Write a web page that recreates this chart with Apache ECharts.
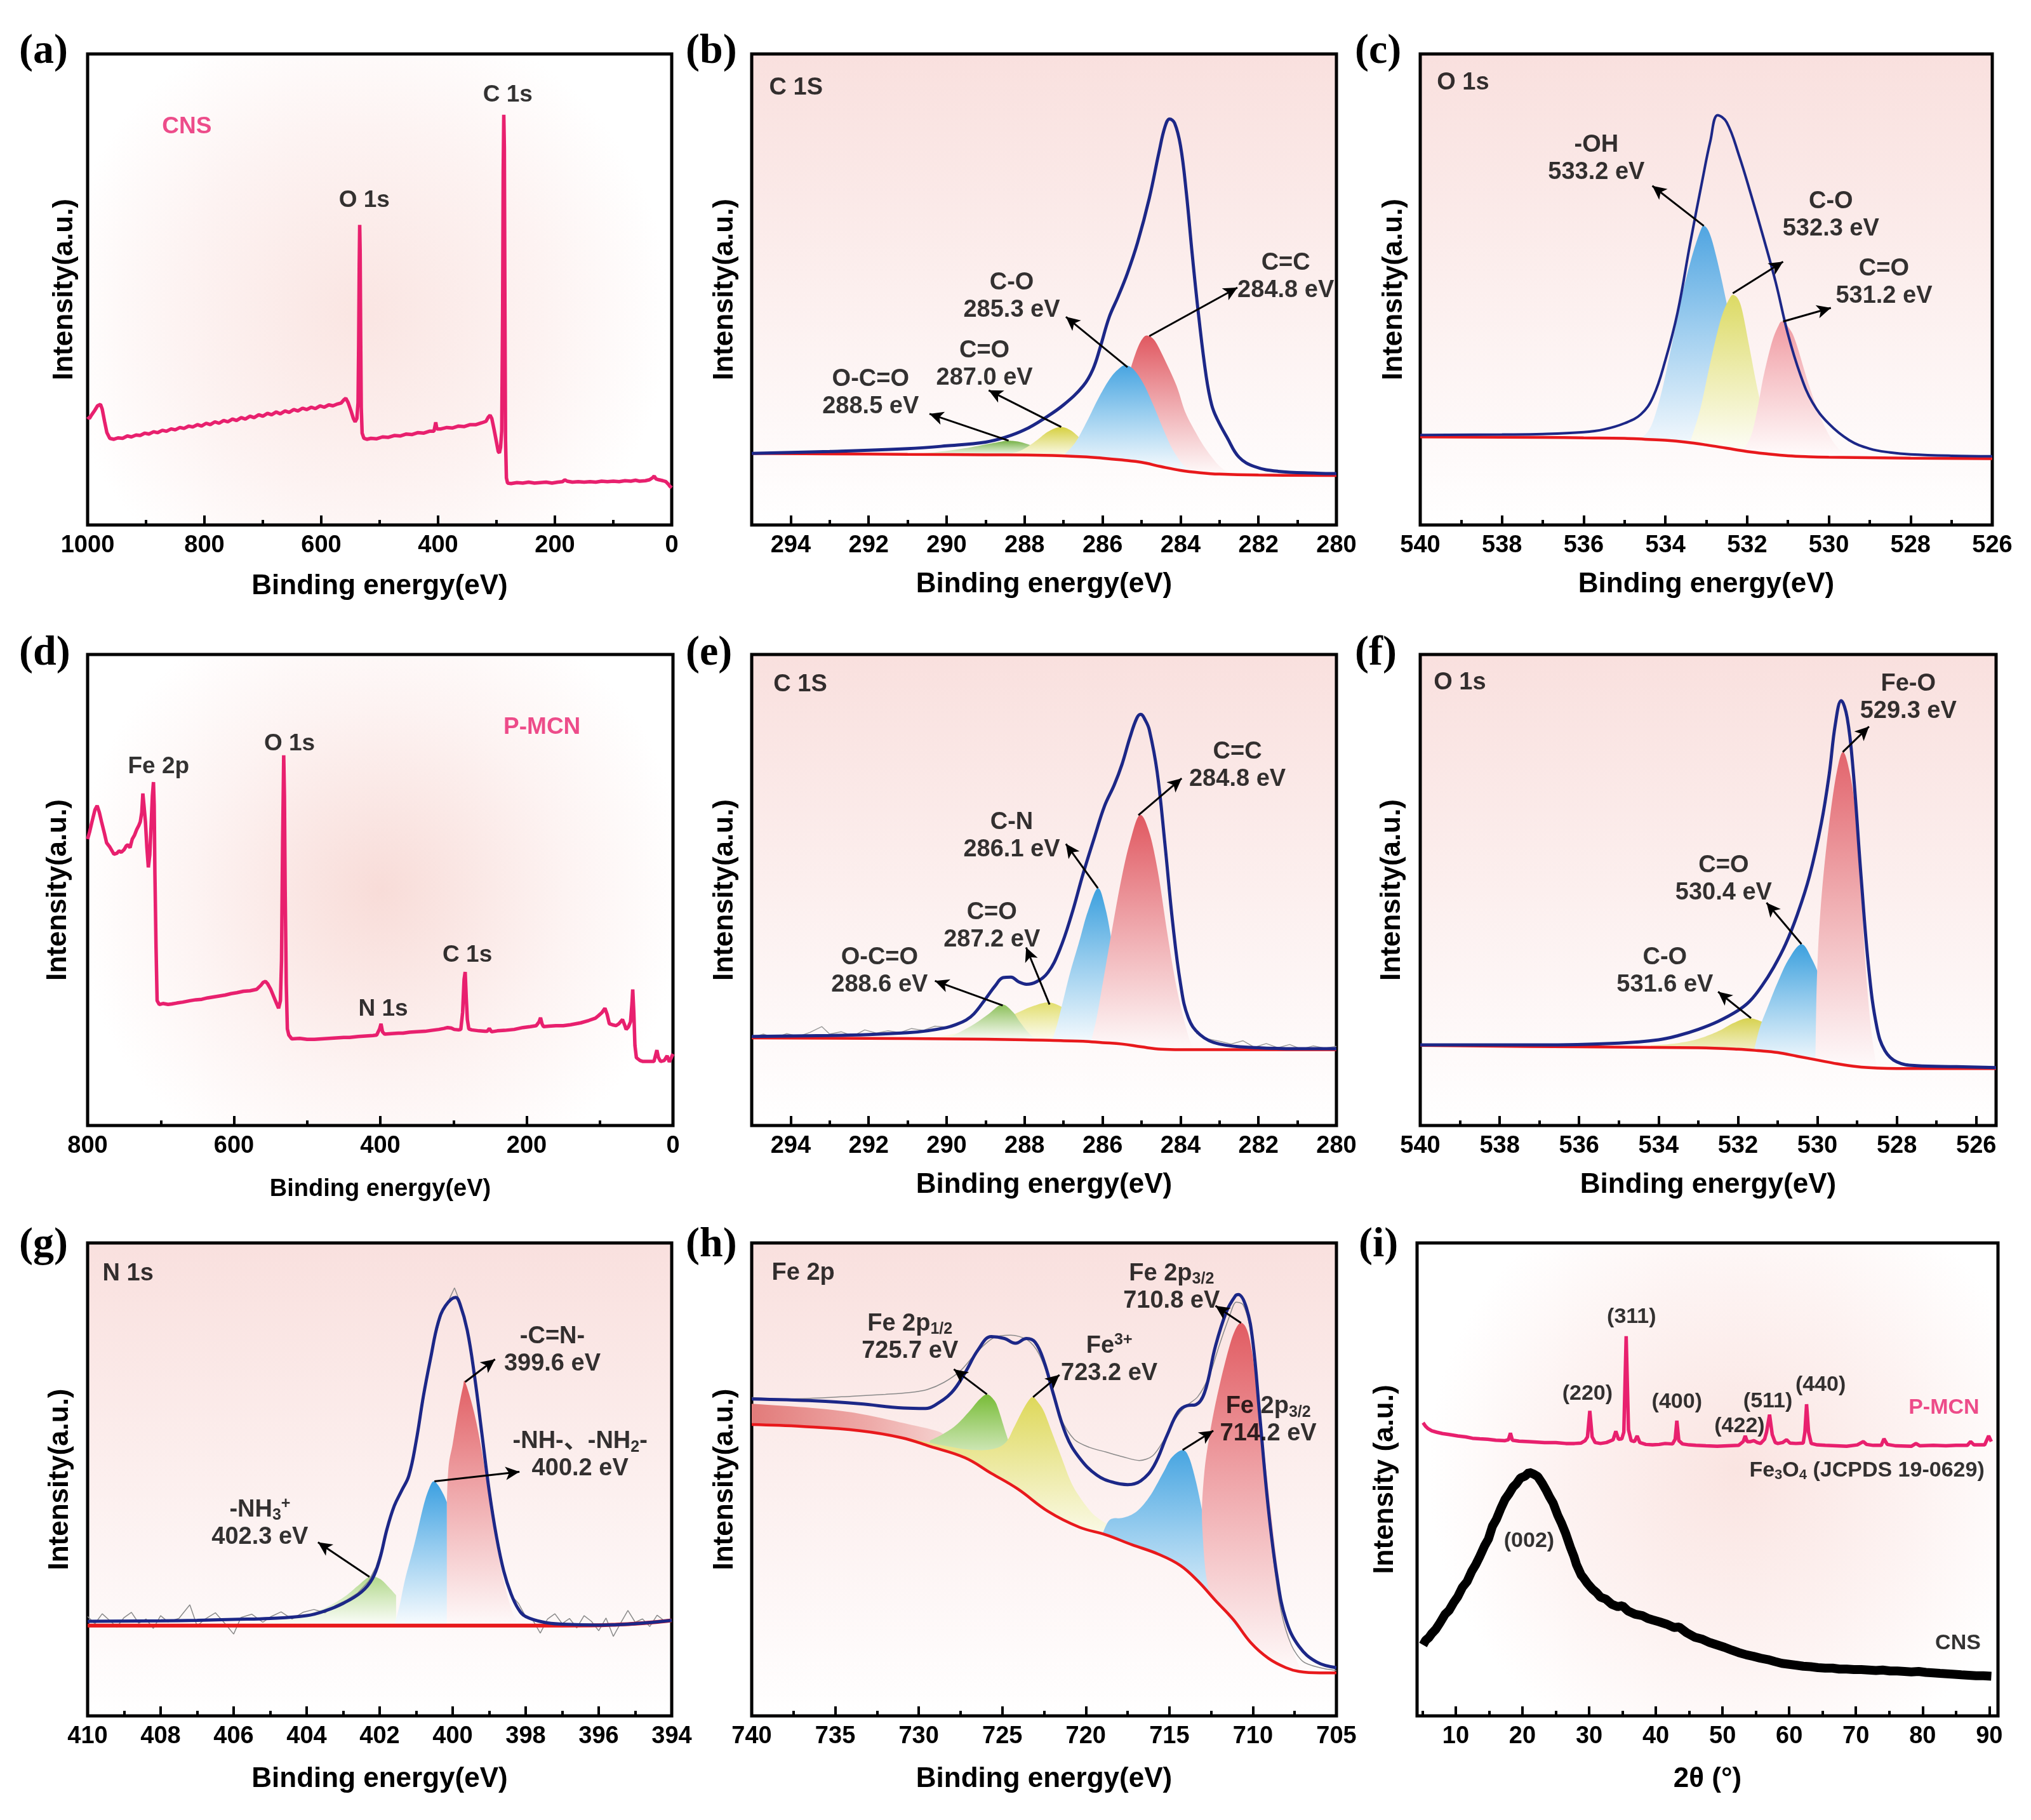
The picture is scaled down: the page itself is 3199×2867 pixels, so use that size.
<!DOCTYPE html>
<html><head><meta charset="utf-8">
<script src="https://cdn.jsdelivr.net/npm/echarts@6.0.0/dist/echarts.min.js"></script>
<style>html,body{margin:0;padding:0;background:#fff}#c{width:3199px;height:2867px}</style>
</head><body><div id="c"></div>
<script>
// ---------------- DATA ----------------
// (a) CNS survey
const aSurvey = [[1000,23.0],[997,22.6],[993,23.4],[988,24.3],[983,25.3],[978,25.6],[975,24.6],[971,22.0],[967,19.6],[962,18.4],[955,18.2],[948,18.5],[940,18.4],[932,18.9],[925,18.7],[917,19.1],[910,19.0],[902,19.5],[895,19.3],[887,19.8],[880,19.6],[872,20.1],[865,19.9],[857,20.4],[850,20.2],[842,20.7],[835,20.5],[827,21.0],[820,20.8],[812,21.3],[805,21.0],[797,21.6],[790,21.3],[782,21.9],[775,21.6],[767,22.2],[760,21.9],[752,22.5],[745,22.2],[737,22.8],[730,22.5],[722,23.1],[715,22.8],[707,23.4],[700,23.1],[692,23.7],[685,23.4],[677,24.0],[670,23.6],[662,24.2],[655,23.9],[647,24.5],[640,24.2],[632,24.8],[625,24.5],[617,25.0],[610,24.7],[602,25.3],[595,25.0],[587,25.5],[580,25.3],[572,25.7],[566,25.9],[561,26.6],[558,26.9],[554,26.0],[549,24.2],[545,22.6],[542,21.9],[539,22.6],[537,26],[536,38],[535,55],[534.2,63.7],[533.4,58],[532.5,40],[531.5,25],[530,19.5],[527,18.4],[522,18.2],[515,18.4],[505,18.3],[495,18.7],[485,18.6],[475,19.0],[465,18.9],[455,19.3],[445,19.2],[435,19.6],[425,19.5],[415,19.9],[407,19.9],[404,21.8],[402,20.4],[395,20.4],[385,20.7],[375,20.6],[365,21.0],[355,20.9],[345,21.3],[335,21.3],[325,21.7],[318,22.0],[314,22.9],[311,23.3],[308,22.6],[304,20.2],[300,17.6],[297,15.6],[295,15.3],[293,16.5],[291,20],[289.5,45],[288.5,75],[287.5,87.1],[286.5,80],[285.5,45],[284.5,18],[283,10],[281,8.9],[275,8.8],[265,9.0],[255,8.9],[245,9.1],[235,8.9],[225,9.0],[215,9.1],[205,8.9],[195,9.1],[187,9.2],[183,9.6],[179,9.3],[170,9.1],[160,9.2],[150,9.1],[140,9.2],[130,9.1],[120,9.3],[110,9.2],[100,9.3],[90,9.2],[80,9.4],[70,9.3],[62,9.5],[55,9.3],[45,9.4],[38,9.6],[33,10.0],[30,10.4],[27,9.8],[22,9.6],[15,9.4],[10,9.2],[6,8.7],[3,8.2],[0,7.9]];
const aLabels = [[280.7,91.2,'C 1s'],[526.3,68.9,'O 1s'],[830,84.5,'CNS','c','#e8206e']];

// (b) C 1s of CNS
const bBase = [[295,15.2],[293,15.1],[291,15.0],[289,14.9],[287.5,14.8],[286.5,14.5],[286,14.2],[285.5,13.8],[285,13.3],[284.5,12.4],[284,11.6],[283.5,11.1],[283,10.8],[282,10.6],[280,10.5]];
const bEnv = [[295,15.2],[293,15.6],[291,16.2],[290,16.8],[289,17.6],[288.5,18.6],[288,20.2],[287.5,22.6],[287.0,25.5],[286.5,29.5],[286.25,33.0],[286.06,37.7],[285.83,44.1],[285.6,48.5],[285.36,53.5],[285.1,60.0],[284.8,69.4],[284.55,79.2],[284.4,84.5],[284.28,86.2],[284.15,85.3],[284.0,80.5],[283.85,70.5],[283.7,57.5],[283.53,44.1],[283.34,31.5],[283.2,25.5],[283.06,22.5],[282.8,18.5],[282.5,14.4],[282.1,12.4],[281.5,11.4],[280.5,11.0],[280,10.9]];
const bGreen = [[291.5,15.0],[290.5,15.3],[289.6,16.2],[289.0,17.1],[288.6,17.7],[288.42,17.9],[288.1,17.6],[287.7,16.5],[287.3,15.4],[287.0,14.8]];
const bYellow = [[288.5,14.9],[288.1,15.8],[287.75,17.6],[287.4,19.8],[287.08,20.8],[286.8,20.0],[286.5,17.8],[286.2,15.6],[285.95,14.3]];
const bRed = [[286.0,14.2],[285.7,22],[285.4,30],[285.15,36.5],[284.98,39.5],[284.84,40.2],[284.65,39.0],[284.4,35.0],[284.1,29.5],[283.88,24.0],[283.6,19.5],[283.34,16.0],[283.0,12.5],[282.7,10.8]];
const bBlue = [[287.0,14.8],[286.7,17.5],[286.4,22],[286.1,27],[285.8,31.2],[285.55,33.4],[285.4,33.9],[285.2,33.0],[284.95,30.0],[284.7,25.5],[284.45,20.5],[284.2,16.0],[283.9,12.5],[283.6,11.1]];
const bLabels = [[294.56,92.8,'C 1S','l'],[281.3,52.7,'C=C\n284.8 eV'],[288.33,48.5,'C-O\n285.3 eV'],[289.03,34.1,'C=O\n287.0 eV'],[291.95,28.0,'O-C=O\n288.5 eV']];
const bArrows = [[284.8,40.1,282.54,50.4],[285.36,33.5,286.94,44.2],[287.06,20.8,288.92,28.6],[288.41,17.9,290.44,23.6]];

// (c) O 1s of CNS
const cBase = [[540,18.7],[537,18.6],[536,18.5],[535,18.4],[534.5,18.2],[534,18.0],[533.5,17.6],[533,17.0],[532.5,16.3],[532,15.6],[531.5,15.1],[531,14.7],[530.5,14.5],[530,14.4],[528,14.2],[526,14.1]];
const cEnv = [[540,19.1],[538,19.2],[537,19.3],[536,19.7],[535.5,20.3],[535,21.6],[534.6,23.5],[534.3,27.2],[534.0,35.0],[533.7,45.2],[533.4,59.5],[533.1,73.0],[532.9,81.5],[532.72,87.0],[532.5,85.5],[532.2,78.5],[531.9,70.0],[531.6,61.0],[531.3,51.5],[531.0,40.5],[530.7,32.0],[530.4,26.0],[530.0,21.5],[529.5,18.0],[529.0,16.2],[528.5,15.4],[528,15.0],[527,14.7],[526,14.6]];
const cBlue = [[534.6,18.3],[534.35,21.0],[534.1,28.0],[533.85,38.0],[533.6,48.5],[533.35,57.0],[533.15,62.3],[533.05,63.5],[532.9,61.5],[532.7,55.0],[532.45,45.0],[532.2,34.5],[531.95,26.0],[531.7,20.0],[531.4,16.2],[531.1,14.7]];
const cYellow = [[533.4,17.5],[533.15,24.5],[532.9,34.5],[532.65,43.5],[532.45,47.8],[532.32,48.8],[532.15,46.5],[531.95,38.0],[531.75,29.0],[531.55,22.0],[531.35,17.5],[531.1,14.8]];
const cRed = [[532.1,15.8],[531.9,19.0],[531.75,24.5],[531.6,31.5],[531.4,38.6],[531.25,42.0],[531.14,43.2],[530.95,41.5],[530.8,38.6],[530.48,29.5],[530.16,22.0],[529.84,17.0],[529.5,14.4]];
const cLabels = [[539.6,93.8,'O 1s','l'],[535.69,77.7,'-OH\n533.2 eV'],[529.95,65.7,'C-O\n532.3 eV'],[528.65,51.5,'C=O\n531.2 eV']];
const cArrows = [[533.06,63.5,534.32,72.0],[532.35,49.2,531.12,55.9],[531.12,43.2,529.95,46.1]];

// (d) P-MCN survey
const dSurvey = [[800,60.8],[797,62.5],[794,64.5],[790,67.0],[787,67.9],[784,66.5],[781,64.5],[777,62.0],[774,60.0],[770,59.2],[767,58.4],[764,57.6],[760,57.8],[757,58.3],[754,58.0],[750,58.6],[747,59.4],[745,59.6],[742,59.0],[739,60.8],[736,61.6],[733,62.8],[730,63.7],[728,64.5],[726,66.5],[724.5,70.5],[723,68.0],[721,64.5],[719,59.0],[717,54.8],[715,57.5],[713,64.5],[711.5,70.0],[710,72.9],[709,68.0],[708,53.2],[706.5,38.0],[705,26.5],[702,25.7],[697,25.9],[690,25.7],[685,25.8],[678,26.0],[670,26.2],[660,26.5],[652,26.7],[644,26.8],[636,27.1],[628,27.3],[620,27.5],[612,27.7],[604,28.0],[596,28.2],[587,28.5],[578,28.6],[569,28.9],[563,29.8],[560,30.4],[557,30.6],[554,30.1],[550,29.0],[546,27.5],[542,26.0],[539,24.9],[536.5,26.5],[535,35],[533.5,60],[532,78.6],[531,70],[530,50],[528.5,30],[527,20.5],[525,19.2],[521,18.4],[510,18.5],[500,18.3],[490,18.3],[480,18.4],[470,18.5],[460,18.6],[450,18.7],[442,18.7],[430,18.9],[420,19.0],[410,19.1],[405,19.2],[401,20.5],[399,21.6],[397,19.9],[394,19.4],[385,19.5],[375,19.6],[369,19.6],[360,19.8],[350,19.9],[339,20.0],[330,20.2],[320,20.4],[313,20.6],[308,20.8],[303,20.7],[299,20.4],[293,20.3],[290,20.4],[287.5,24],[285.5,31],[284,32.6],[282.5,27],[281,22.5],[279,20.5],[275,20.3],[265,20.1],[257,20.0],[254,20.0],[251,20.6],[248,19.9],[240,20.1],[230,20.2],[217,20.4],[205,20.8],[195,21.0],[187,21.2],[183,22.0],[181,22.9],[179,21.6],[177,21.0],[170,21.1],[160,21.2],[150,21.2],[140,21.4],[126,21.8],[115,22.3],[106,22.8],[102,23.3],[97,24.0],[93,24.9],[90,23.6],[87,21.6],[83,21.4],[78,21.2],[74,21.6],[69,22.5],[66,21.3],[64,20.4],[61,20.9],[58,22.0],[56,26.0],[55,28.9],[53.5,24.0],[52,17.0],[50,14.4],[45,13.8],[41,13.6],[33,13.6],[26,13.6],[24,14.8],[22,16.0],[20,14.5],[17,13.6],[12,13.8],[8,14.8],[5,13.5],[2,14.5],[0,15.2]];
const dLabels = [[703,76.2,'Fe 2p'],[524,81.0,'O 1s'],[179,84.5,'P-MCN','c','#e8206e'],[281,36.2,'C 1s'],[396,24.7,'N 1s']];

// (e) C 1s of P-MCN
const eBase = [[295,18.6],[292,18.5],[290,18.4],[288,18.2],[287,18.0],[286.5,17.9],[286,17.6],[285.5,17.3],[285,16.7],[284.5,16.2],[284,16.1],[282,16.1],[280,16.1]];
const eEnv = [[295,18.9],[293,19.1],[292,19.3],[291,19.7],[290.5,20.1],[290,20.8],[289.8,21.3],[289.5,22.4],[289.3,23.7],[289.0,26.9],[288.75,29.7],[288.55,31.4],[288.35,31.5],[288.15,30.5],[287.95,30.0],[287.7,30.5],[287.4,32.5],[287.1,37.3],[286.8,44.6],[286.5,53.4],[286.2,61.4],[285.95,67.8],[285.7,72.3],[285.5,76.7],[285.3,82.3],[285.12,86.5],[285.02,87.3],[284.9,86.0],[284.8,84.0],[284.6,75.1],[284.4,59.8],[284.2,43.0],[284.0,30.1],[283.8,22.9],[283.5,19.3],[283.0,17.3],[282,16.5],[281,16.3],[280,16.3]];
const eYellow = [[290.5,18.4],[289.9,19.3],[289.4,20.3],[288.8,21.7],[288.25,23.7],[287.8,25.3],[287.35,26.1],[286.9,24.5],[286.6,22.5],[286.45,20.5],[286.3,18.5],[286.1,17.8]];
const eGreen = [[290.0,18.4],[289.6,20.1],[289.26,21.7],[288.92,23.7],[288.58,25.7],[288.3,24.1],[288.13,22.1],[287.9,19.7],[287.7,18.2]];
const eBlue = [[287.3,18.0],[287.17,21.3],[287.0,26.9],[286.83,32.5],[286.6,39.0],[286.38,45.4],[286.12,50.4],[285.93,46.2],[285.78,39.8],[285.65,32.0],[285.5,24.5],[285.3,19.5],[285.1,17.0]];
const eRed = [[286.3,17.7],[286.15,22.9],[285.98,30.9],[285.76,41.4],[285.53,51.8],[285.31,59.8],[285.05,65.9],[284.8,62.2],[284.57,53.4],[284.35,41.4],[284.12,30.1],[283.9,22.1],[283.73,17.3],[283.6,16.1]];
const eRawL = [[295,18.7],[294.7,19.4],[294.4,18.6],[294.1,19.5],[293.8,18.9],[293.5,19.8],[293.2,21.0],[293.0,19.4],[292.7,19.9],[292.4,19.0],[292.1,20.3],[291.8,19.6],[291.5,20.1],[291.2,19.7],[290.9,20.6],[290.6,20.2],[290.3,21.1],[290.0,20.9],[289.7,21.8]];
const eRawR = [[283.6,19.6],[283.3,18.4],[283.0,17.9],[282.7,17.3],[282.4,18.0],[282.1,16.6],[281.8,17.4],[281.5,16.5],[281.2,17.2],[280.9,16.2],[280.6,16.9],[280.3,16.4],[280,16.8]];
const eLabels = [[294.45,93.6,'C 1S','l'],[282.54,76.4,'C=C\n284.8 eV'],[288.33,61.4,'C-N\n286.1 eV'],[288.84,42.3,'C=O\n287.2 eV'],[291.72,32.8,'O-C=O\n288.6 eV']];
const eArrows = [[285.08,65.9,283.97,73.7],[286.12,50.4,286.94,59.8],[287.36,25.7,287.96,37.8],[288.56,25.5,290.3,30.7]];

// (f) O 1s of P-MCN
const fBase = [[540,17.0],[536,16.7],[533,16.5],[532,16.2],[531.5,15.9],[531,15.5],[530.5,14.7],[530,13.9],[529.5,13.1],[529,12.5],[528.5,12.2],[528,12.1],[525.5,12.1]];
const fEnv = [[540,17.1],[537,17.1],[535,17.5],[534,18.2],[533.5,19.1],[533,20.4],[532.5,22.1],[532,24.4],[531.7,26.4],[531.4,29.6],[531.1,33.6],[530.8,38.5],[530.5,44.9],[530.2,52.9],[529.9,64.2],[529.7,74.7],[529.55,85.1],[529.4,90.2],[529.25,86.6],[529.1,75.5],[528.9,52.9],[528.7,32.8],[528.5,20.8],[528.3,15.9],[528.0,13.5],[527.5,12.7],[526.5,12.5],[525.5,12.3]];
const fYellow = [[534.2,17.0],[533.6,17.4],[533.04,18.3],[532.5,20.0],[532.1,21.8],[531.72,22.8],[531.28,21.6],[530.84,19.5],[530.4,17.5],[529.96,15.5],[529.7,14.0],[529.4,12.9]];
const fBlue = [[531.6,15.8],[531.45,20.8],[531.23,25.6],[531.0,30.4],[530.73,35.2],[530.4,38.5],[530.13,35.2],[529.85,29.6],[529.63,24.0],[529.41,19.1],[529.2,15.5],[529.03,13.1],[528.8,12.3]];
const fRed = [[530.05,13.8],[530.02,28.8],[529.96,40.9],[529.85,52.9],[529.69,65.0],[529.52,74.7],[529.36,79.3],[529.2,75.5],[529.05,67.4],[528.92,52.9],[528.81,36.8],[528.7,24.8],[528.59,16.7],[528.5,12.3]];
const fLabels = [[539.67,94.0,'O 1s','l'],[527.71,90.9,'Fe-O\n529.3 eV'],[532.36,52.3,'C=O\n530.4 eV'],[533.84,32.8,'C-O\n531.6 eV']];
const fArrows = [[529.36,79.3,528.7,84.7],[530.4,38.5,531.28,47.3],[531.67,22.8,532.5,28.4]];

// (g) N 1s
const gBase = [[410,19.1],[404,19.1],[400,19.1],[397,19.1],[396,19.15],[395.5,19.3],[395,19.5],[394.5,19.8],[394,20.2]];
const gEnv = [[410,20.0],[408,20.1],[407,20.2],[406,20.4],[405,20.6],[404,21.2],[403.5,22.2],[403,23.8],[402.5,26.2],[402.2,29.0],[402.0,33.1],[401.8,39.5],[401.6,44.4],[401.4,47.6],[401.2,50.8],[401.0,58.1],[400.8,67.7],[400.6,75.8],[400.4,83.1],[400.2,86.7],[399.92,88.5],[399.8,87.1],[399.6,81.5],[399.4,71.8],[399.2,59.7],[399.0,47.6],[398.8,37.9],[398.6,30.6],[398.4,25.8],[398.2,22.6],[398.0,21.0],[397.5,19.8],[397,19.4],[396,19.2],[395,19.5],[394,20.2]];
const gGreen = [[406.6,19.1],[405.5,19.6],[404.5,20.6],[403.6,22.5],[403.0,25.0],[402.6,27.5],[402.28,29.4],[402.0,29.0],[401.75,27.2],[401.55,25.5]];
const gRed = [[400.17,19.1],[400.17,40],[400.12,52],[400.0,57.5],[399.85,64.5],[399.72,69.5],[399.66,70.6],[399.45,65.3],[399.27,58.9],[399.09,50.8],[398.9,41.1],[398.72,33.1],[398.54,26.6],[398.35,21.8],[398.17,19.1]];
const gBlue = [[401.6,19.1],[401.45,23.5],[401.3,29.0],[401.05,36.3],[400.8,44.4],[400.65,48.0],[400.53,49.6],[400.4,48.8],[400.25,46.8],[400.16,45.2]];
const gRaw = [[410,21.0],[409.8,19.5],[409.6,21.6],[409.4,20.2],[409.2,18.8],[409,20.8],[408.8,21.9],[408.6,19.6],[408.4,20.5],[408.2,18.5],[408,21.2],[407.8,19.9],[407.5,20.6],[407.2,23.5],[407,19.0],[406.8,20.4],[406.5,21.8],[406.2,19.2],[406,17.3],[405.8,20.8],[405.5,21.5],[405.2,19.8],[405,20.9],[404.7,22.0],[404.4,20.5],[404.1,21.9],[403.8,22.5],[403.5,21.8],[403.2,23.4],[402.9,24.5],[402.6,26.0],[402.3,28.5],[402.1,31.5],[401.9,36.5],[401.7,42.0],[401.5,46.0],[401.3,48.8],[401.1,53.5],[400.9,62.0],[400.7,71.5],[400.5,79.5],[400.3,85.0],[400.1,88.0],[399.95,90.5],[399.8,87.5],[399.6,81.0],[399.4,72.5],[399.2,60.5],[399.0,48.5],[398.8,38.5],[398.6,31.0],[398.4,25.5],[398.2,23.8],[398.0,21.0],[397.8,20.2],[397.6,17.5],[397.4,20.5],[397.2,21.6],[397,19.5],[396.8,20.6],[396.6,18.6],[396.4,21.2],[396.2,20.0],[396,18.0],[395.8,20.7],[395.6,16.8],[395.4,19.6],[395.2,22.3],[395,19.8],[394.8,20.5],[394.6,18.9],[394.4,21.3],[394.2,20.1],[394,20.4]];
const gLabels = [[409.6,93.5,'N 1s','l'],[397.27,77.3,'-C=N-\n399.6 eV'],[396.51,55.1,'-NH-、-NH{s|2}-\n400.2 eV'],[405.28,40.7,'-NH{s|3}{p|+}\n402.3 eV']];
const gArrows = [[399.66,70.6,398.84,75.4],[400.5,49.6,398.17,51.6],[402.28,29.4,403.69,36.7]];

// (h) Fe 2p
const hBase = [[740,61.6],[737,61.2],[733.55,60.3],[731,58.8],[729.34,57.0],[727.24,54.6],[725.66,51.3],[724.08,48.0],[722.24,43.2],[720.39,39.9],[718.82,38.3],[717.24,36.2],[715.66,34.2],[714.34,31.8],[713.29,28.5],[712.24,24.4],[711.18,20.4],[710.13,15.5],[709.08,12.2],[708.03,10.2],[707.24,9.4],[706,9.1],[705,9.1]];
const hEnv = [[740,67.0],[736.18,66.6],[733.55,66.0],[730.92,65.1],[729.6,65.0],[729.08,65.6],[728.03,68.4],[727.24,72.5],[726.45,77.4],[725.66,80.2],[724.87,79.8],[724.21,78.8],[723.55,79.8],[723.03,79.0],[722.5,74.9],[721.97,68.4],[721.18,59.4],[720.39,54.6],[719.34,50.9],[718.29,49.3],[717.5,48.9],[716.71,49.7],[715.92,52.9],[715.13,59.4],[714.47,64.3],[713.95,65.6],[713.42,65.8],[712.89,68.4],[712.24,78.2],[711.58,85.5],[711.05,88.8],[710.87,89.1],[710.39,86.3],[710.0,79.0],[709.61,64.3],[709.08,44.0],[708.55,29.3],[708.03,20.4],[707.24,14.7],[706.18,11.4],[705,10.2]];
const hBand = [[740,66.0],[736,65.0],[733.55,63.9],[730.9,61.9],[728.8,60.1],[728.3,58.5]];
const hGreen = [[729.34,58.2],[728.55,59.6],[727.76,61.5],[727.0,64.3],[726.4,66.8],[725.92,68.0],[725.5,66.8],[725.26,65.1],[724.87,60.7],[724.6,57.8]];
const hYellow = [[733.0,60.0],[731,59.0],[729,57.5],[727,56.3],[725.6,56.4],[724.8,57.8],[724.3,61.0],[723.8,64.5],[723.4,66.8],[723.16,67.4],[722.9,66.5],[722.5,64.3],[721.97,59.4],[721.45,54.6],[720.92,49.7],[720.39,46.4],[719.6,42.8],[718.8,40.7],[717.76,38.3],[716.45,35.8],[715.66,34.2]];
const hBlue = [[719.0,38.6],[718.55,41.5],[717.76,41.9],[716.97,43.2],[716.18,46.4],[715.39,51.3],[714.87,54.6],[714.21,56.2],[713.82,54.6],[713.42,49.7],[713.03,43.2],[712.63,35.8],[712.24,29.3],[711.84,24.4],[711.45,20.4],[711.05,17.9],[710.8,17.0]];
const hRed = [[712.6,25.5],[712.85,31.0],[713.0,38.0],[713.05,44.0],[712.89,52.1],[712.63,58.6],[712.24,66.0],[711.71,74.1],[711.18,80.6],[710.71,83.1],[710.26,80.6],[709.87,72.5],[709.47,60.3],[709.08,48.0],[708.68,35.8],[708.29,25.2],[707.89,17.9],[707.5,13.0],[707.24,10.6],[707.0,9.3]];
const hRaw = [[740,67.3],[738,67.0],[736,67.2],[734,67.6],[732,68.0],[730.5,68.4],[729.5,69.0],[728.5,70.5],[727.5,73.0],[726.5,77.0],[725.5,80.0],[724.5,80.5],[723.5,79.5],[722.8,76.5],[722.2,71.0],[721.5,63.0],[720.7,58.5],[719.8,56.8],[718.8,55.8],[717.8,54.8],[716.8,54.0],[716.0,55.0],[715.3,58.5],[714.6,63.0],[714.0,65.5],[713.3,67.5],[712.6,72.0],[712.0,78.5],[711.4,84.5],[711.0,87.5],[710.6,87.0],[710.2,82.5],[709.8,72.0],[709.3,52.0],[708.8,34.0],[708.3,22.0],[707.7,15.0],[707,11.5],[706,10.2],[705,9.6]];
const hLabels = [[738.82,93.6,'Fe 2p','l'],[714.87,90.6,'Fe 2p{s|3/2}\n710.8 eV'],[730.53,80.0,'Fe 2p{s|1/2}\n725.7 eV'],[718.6,75.3,'Fe{p|3+}\n723.2 eV'],[709.08,62.5,'Fe 2p{s|3/2}\n714.2 eV']];
const hArrows = [[710.71,83.1,712.24,86.7],[725.92,68.0,727.9,73.3],[723.16,67.4,721.58,72.1],[714.21,56.2,712.37,60.3]];

// (i) XRD
const iPMCN = [[5.1,62.0],[5.5,61.2],[5.8,60.8],[6.4,60.3],[7.1,60.0],[8,59.7],[9,59.5],[10.3,59.2],[11.5,59.0],[12.5,58.7],[13.6,58.6],[14.8,58.5],[16,58.3],[17.4,58.2],[17.9,58.4],[18.2,59.8],[18.5,58.3],[19.5,58.1],[21,58.0],[23.3,57.8],[25,57.8],[26.5,57.6],[27.8,57.6],[28.8,57.7],[29.4,58.2],[29.75,59.0],[30.1,64.5],[30.45,59.0],[30.9,57.8],[31.7,57.6],[32.6,57.8],[33.6,58.4],[34.0,60.2],[34.4,58.5],[34.9,58.6],[35.2,60.0],[35.55,80.3],[35.9,60.5],[36.3,58.2],[36.8,58.0],[37.2,59.2],[37.6,57.8],[38.5,57.4],[39.5,57.3],[40.5,57.4],[41.4,57.6],[42.5,57.5],[42.9,58.5],[43.15,62.4],[43.45,58.2],[44,57.5],[45,57.3],[46,57.2],[47.5,57.1],[49.2,57.0],[50.8,57.1],[52.4,57.2],[53.1,58.0],[53.4,59.2],[53.7,58.0],[54.2,58.0],[54.7,58.2],[55.2,57.8],[55.7,57.6],[56.3,58.5],[56.6,60.0],[57.05,63.7],[57.45,59.5],[57.9,57.8],[58.3,57.6],[59.0,57.8],[59.6,58.4],[60.1,57.7],[61.0,57.6],[62.1,57.7],[62.35,60.0],[62.6,65.9],[62.9,60.0],[63.3,57.6],[64.2,57.3],[65.4,57.2],[67,57.1],[68.6,57.0],[70.2,57.3],[71.1,58.0],[71.6,57.4],[72.6,57.2],[73.8,57.2],[74.2,58.6],[74.7,57.4],[76,57.1],[78.3,57.0],[79,57.6],[79.6,57.1],[81.6,57.2],[83.5,57.1],[85,57.2],[86.7,57.2],[87.2,58.0],[87.7,57.3],[89.3,57.3],[89.9,59.2],[90.3,58.0]];
const iCNS = [[5.1,15.0],[5.5,16.0],[6.0,16.6],[6.4,17.4],[7.0,18.3],[7.6,19.6],[8.4,21.5],[9.0,22.3],[9.7,24.0],[10.3,25.2],[11.0,27.2],[11.7,28.4],[12.4,30.6],[13.0,32.0],[13.6,33.7],[14.3,35.9],[14.9,37.4],[15.5,40.1],[16.1,41.6],[16.8,44.0],[17.4,45.8],[18.0,47.0],[18.6,48.4],[19.1,49.1],[19.7,50.3],[20.4,50.7],[21.0,51.5],[21.7,51.1],[22.3,50.6],[23.0,49.1],[23.6,47.6],[24.1,46.2],[24.6,45.0],[25.3,42.4],[25.9,40.6],[26.5,38.5],[27.2,35.6],[27.7,33.8],[28.1,32.0],[28.8,29.8],[29.2,29.1],[29.75,28.0],[30.5,26.8],[31.1,26.1],[31.7,25.1],[32.5,24.7],[33.4,23.6],[34.3,23.1],[35.0,23.3],[35.8,22.2],[36.9,21.5],[38.0,21.2],[38.8,20.6],[39.5,20.3],[40.5,19.9],[41.6,19.4],[42.7,18.7],[43.5,18.8],[44.6,17.6],[45.9,16.6],[47.0,16.2],[48.1,15.5],[49.2,15.0],[50.3,14.5],[51.4,13.9],[52.4,13.4],[53.6,12.9],[54.6,12.6],[55.7,12.2],[56.8,11.9],[57.8,11.5],[58.9,11.1],[60.0,10.9],[61.1,10.7],[62.1,10.5],[63.2,10.4],[64.3,10.2],[65.4,10.1],[66.5,10.1],[67.5,9.9],[68.6,9.9],[69.7,9.8],[70.8,9.8],[71.9,9.7],[73.0,9.6],[74.0,9.7],[75.1,9.5],[76.2,9.5],[77.3,9.4],[78.3,9.3],[79.4,9.4],[80.5,9.2],[81.6,9.1],[82.6,9.0],[83.7,8.9],[84.8,8.8],[85.8,8.7],[86.9,8.6],[88.0,8.5],[89.1,8.5],[90.3,8.4]];
const iLabels = [[36.36,84.3,'(311)'],[29.75,68.1,'(220)'],[43.16,66.3,'(400)'],[52.55,61.2,'(422)'],[56.8,66.5,'(511)'],[64.7,70.0,'(440)'],[83.2,65.1,'P-MCN','c','#e8206e'],[71.65,51.9,'Fe{s|3}O{s|4} (JCPDS 19-0629)'],[21.0,36.9,'(002)'],[85.3,15.4,'CNS']];

// tick values
const ticksA = [0,200,400,600,800,1000], minorA = [100,300,500,700,900];
const ticksC1 = [280,282,284,286,288,290,292,294], minorC1 = [281,283,285,287,289,291,293];
const ticksO1 = [526,528,530,532,534,536,538,540], minorO1 = [527,529,531,533,535,537,539];
const ticksD = [0,200,400,600,800], minorD = [100,300,500,700];
const ticksG = [394,396,398,400,402,404,406,408,410], minorG = [395,397,399,401,403,405,407,409];
const ticksH = [705,710,715,720,725,730,735,740], minorH = [707.5,712.5,717.5,722.5,727.5,732.5,737.5];
const ticksI = [10,20,30,40,50,60,70,80,90], minorI = [5,15,25,35,45,55,65,75,85];

// ---------------- STYLE / LAYOUT ----------------
const FONT = '"Liberation Sans", Arial, Helvetica, "Noto Sans CJK SC", sans-serif';
const NAVY = '#1c2787', RED = '#e8191c', PINK = '#e8206e';
const G = echarts.graphic;
function mix(c, k){ return 'rgb(' + c.map(v => Math.round(v + (255 - v) * k)).join(',') + ')'; }
function vgrad(c){ return new G.LinearGradient(0,0,0,1,[{offset:0,color:mix(c,0)},{offset:0.45,color:mix(c,0.45)},{offset:1,color:mix(c,0.97)}]); }
const linBg = () => new G.LinearGradient(0,0,0,1,[{offset:0,color:'#f9e0de'},{offset:0.5,color:'#fcefee'},{offset:0.85,color:'#fefafa'},{offset:1,color:'#ffffff'}]);
const radBg = (cx, cy, r, c) => new G.RadialGradient(cx, cy, r, [{offset:0,color:c},{offset:0.6,color:'#fdf3f2'},{offset:1,color:'#ffffff'}]);

const panels = [
  {l:138,t:85,w:920,h:742,min:0,max:1000,inv:true,maj:ticksA,mnr:minorA,bg:radBg(0.47,0.55,0.65,'#fae5e2'),yg:14,xn:'Binding energy(eV)',xfs:44,xg:75,tag:'(a)',tx:30,ty:82},
  {l:1184,t:85,w:921,h:742,min:280,max:295,inv:true,maj:ticksC1,mnr:minorC1,bg:linBg(),yg:20,xn:'Binding energy(eV)',xfs:44,xg:72,tag:'(b)',tx:1080,ty:82},
  {l:2237,t:85,w:901,h:742,min:526,max:540,inv:true,maj:ticksO1,mnr:minorO1,bg:linBg(),yg:19,xn:'Binding energy(eV)',xfs:44,xg:72,tag:'(c)',tx:2134,ty:82},
  {l:138,t:1031,w:922,h:742,min:0,max:800,inv:true,maj:ticksD,mnr:minorD,bg:radBg(0.5,0.5,0.65,'#f8dcd8'),yg:24,xn:'Binding energy(eV)',xfs:38,xg:82,tag:'(d)',tx:30,ty:1030},
  {l:1184,t:1031,w:921,h:742,min:280,max:295,inv:true,maj:ticksC1,mnr:minorC1,bg:linBg(),yg:20,xn:'Binding energy(eV)',xfs:44,xg:72,tag:'(e)',tx:1080,ty:1030},
  {l:2237,t:1031,w:907,h:742,min:525.5,max:540,inv:true,maj:ticksO1,mnr:minorO1,bg:linBg(),yg:22,xn:'Binding energy(eV)',xfs:44,xg:72,tag:'(f)',tx:2134,ty:1030},
  {l:138,t:1958,w:920,h:745,min:394,max:410,inv:true,maj:ticksG,mnr:minorG,bg:linBg(),yg:21,xn:'Binding energy(eV)',xfs:44,xg:78,tag:'(g)',tx:30,ty:1962},
  {l:1184,t:1958,w:921,h:745,min:705,max:740,inv:true,maj:ticksH,mnr:minorH,bg:linBg(),yg:20,xn:'Binding energy(eV)',xfs:44,xg:78,tag:'(h)',tx:1080,ty:1962},
  {l:2232,t:1958,w:915,h:745,min:4.2,max:91.3,inv:false,maj:ticksI,mnr:minorI,bg:radBg(0.55,0.48,0.65,'#fae4e1'),yg:28,xn:'2θ (°)',xfs:44,xg:78,tag:'(i)',tx:2140,ty:1962,yn:'Intensity (a.u.)'}
];

const grid = [], xAxis = [], yAxis = [], graphic = [];
panels.forEach((p, i) => {
  grid.push({left:p.l, top:p.t, width:p.w, height:p.h, show:true, backgroundColor:p.bg, borderColor:'#000', borderWidth:5, containLabel:false});
  const common = {gridIndex:i, type:'value', min:p.min, max:p.max, inverse:p.inv, position:'bottom', splitLine:{show:false}, axisLine:{show:false}};
  xAxis.push(Object.assign({}, common, {
    axisTick:{show:true, inside:true, length:15, lineStyle:{color:'#000', width:4}, customValues:p.maj},
    axisLabel:{show:true, customValues:p.maj, margin:14, fontSize:38, fontWeight:'bold', color:'#000', fontFamily:FONT, formatter: v => String(v)},
    name:p.xn, nameLocation:'middle', nameGap:p.xg,
    nameTextStyle:{fontSize:p.xfs, fontWeight:'bold', color:'#000', fontFamily:FONT}
  }));
  xAxis.push(Object.assign({}, common, {
    axisTick:{show:true, inside:true, length:8, lineStyle:{color:'#000', width:4}, customValues:p.mnr},
    axisLabel:{show:false}
  }));
  yAxis.push({gridIndex:i, type:'value', min:0, max:100, axisLine:{show:false}, axisTick:{show:false}, axisLabel:{show:false}, splitLine:{show:false},
    name:p.yn || 'Intensity(a.u.)', nameLocation:'middle', nameRotate:90, nameGap:p.yg,
    nameTextStyle:{fontSize:44, fontWeight:'bold', color:'#000', fontFamily:FONT}});
  graphic.push({type:'text', x:p.tx, y:p.ty, z:100, style:{text:p.tag, fontSize:66, fontWeight:'bold', fontFamily:'"Liberation Serif", "Times New Roman", "DejaVu Serif", serif', fill:'#000', verticalAlign:'middle', align:'left'}});
});

// ---------------- SERIES HELPERS ----------------
function interpY(base, x){
  const b = base.slice().sort((p, q) => p[0] - q[0]);
  if (x <= b[0][0]) return b[0][1];
  for (let k = 1; k < b.length; k++) {
    if (x <= b[k][0]) { const t = (x - b[k-1][0]) / (b[k][0] - b[k-1][0]); return b[k-1][1] + t * (b[k][1] - b[k-1][1]); }
  }
  return b[b.length-1][1];
}
function crSpline(p, n){
  const out = [];
  for (let k = 0; k < p.length - 1; k++) {
    const p0 = p[k > 0 ? k-1 : k], p1 = p[k], p2 = p[k+1], p3 = p[k+2 < p.length ? k+2 : k+1];
    for (let s = 0; s < n; s++) {
      const t = s / n, t2 = t*t, t3 = t2*t;
      out.push([0,1].map(d => 0.5*(2*p1[d] + (-p0[d]+p2[d])*t + (2*p0[d]-5*p1[d]+4*p2[d]-p3[d])*t2 + (-p0[d]+3*p1[d]-3*p2[d]+p3[d])*t3)));
    }
  }
  out.push(p[p.length-1]);
  return out;
}
function comp(gi, top, base, fill){
  return {type:'custom', coordinateSystem:'cartesian2d', xAxisIndex:2*gi, yAxisIndex:gi, z:2, silent:true, animation:false,
    data:[top[0]],
    renderItem: function(params, api){
      const tp = crSpline(top.map(q => api.coord(q)), 10);
      const x0 = top[0][0], x1 = top[top.length-1][0];
      const lo = Math.min(x0, x1), hi = Math.max(x0, x1);
      const inner = base.filter(q => q[0] > lo && q[0] < hi).sort((q, r) => x1 < x0 ? q[0]-r[0] : r[0]-q[0]);
      const back = [api.coord([x1, interpY(base, x1)])].concat(inner.map(q => api.coord(q)), [api.coord([x0, interpY(base, x0)])]);
      return {type:'polygon', shape:{points: tp.concat(back)}, style:{fill: fill}};
    }};
}
function line(gi, data, color, width, smooth, z, extra){
  return Object.assign({type:'line', xAxisIndex:2*gi, yAxisIndex:gi, data:data, showSymbol:false, symbol:'none', smooth:smooth,
    lineStyle:{color:color, width:width}, z:z || 3, silent:true, animation:false, clip:true}, extra || {});
}
function arrows(list){
  return {silent:true, animation:false, symbol:['none','arrow'], symbolSize:[16,22], precision:3,
    lineStyle:{color:'#000', width:3, type:'solid'}, label:{show:false}, emphasis:{disabled:true},
    data:list.map(a => [{coord:[a[0], a[1]]}, {coord:[a[2], a[3]]}])};
}
function rich(fs){
  return {
    s:{fontSize:Math.round(fs*0.66), fontWeight:'bold', fontFamily:FONT, color:'#000', verticalAlign:'bottom', lineHeight:12},
    p:{fontSize:Math.round(fs*0.66), fontWeight:'bold', fontFamily:FONT, color:'#000', verticalAlign:'top', lineHeight:18}
  };
}
function labels(gi, list, fs){
  fs = fs || 38;
  return {type:'scatter', xAxisIndex:2*gi, yAxisIndex:gi, symbolSize:1, itemStyle:{color:'rgba(0,0,0,0)'}, silent:true, z:20, animation:false,
    label:{show:true, fontSize:fs, fontWeight:'bold', fontFamily:FONT, color:'#000', lineHeight:Math.round(fs*1.12), rich:rich(fs)},
    data:list.map(it => ({value:[it[0], it[1]], label:{show:true, formatter:it[2], position: it[3] === 'l' ? 'right' : 'inside', distance:0, align: it[3] === 'l' ? 'left' : 'center', color: it[4] || '#000'}}))};
}

const cRedC = [224,88,96], cBlueC = [72,165,225], cYelC = [214,208,64], cGrnC = [118,178,70];
const LW = 5;

const series = [
  // (a)
  line(0, aSurvey, PINK, 5.5, false),
  labels(0, aLabels, 37),
  // (b)
  comp(1, bGreen, bBase, vgrad(cGrnC)), comp(1, bYellow, bBase, vgrad(cYelC)), comp(1, bRed, bBase, vgrad(cRedC)), comp(1, bBlue, bBase, vgrad(cBlueC)),
  line(1, bBase, RED, 4.5, 0.4),
  line(1, bEnv, NAVY, LW, 0.4, 4, {markLine: arrows(bArrows)}),
  labels(1, bLabels),
  // (c)
  comp(2, cBlue, cBase, vgrad([80,165,225])), comp(2, cYellow, cBase, vgrad([220,218,100])), comp(2, cRed, cBase, vgrad([240,155,162])),
  line(2, cBase, RED, 4.5, 0.4),
  line(2, cEnv, NAVY, 4, 0.4, 4, {markLine: arrows(cArrows)}),
  labels(2, cLabels),
  // (d)
  line(3, dSurvey, PINK, 5.5, false),
  labels(3, dLabels, 37),
  // (e)
  comp(4, eYellow, eBase, vgrad([226,222,110])), comp(4, eGreen, eBase, vgrad([140,192,90])), comp(4, eBlue, eBase, vgrad([60,160,222])), comp(4, eRed, eBase, vgrad(cRedC)),
  line(4, eRawL, '#9a9a9a', 1.5, false), line(4, eRawR, '#9a9a9a', 1.5, false),
  line(4, eBase, RED, 4.5, 0.4),
  line(4, eEnv, NAVY, LW, 0.4, 4, {markLine: arrows(eArrows)}),
  labels(4, eLabels),
  // (f)
  comp(5, fYellow, fBase, vgrad([215,210,80])), comp(5, fBlue, fBase, vgrad([60,160,222])), comp(5, fRed, fBase, vgrad([226,100,108])),
  line(5, fBase, RED, 4.5, 0.4),
  line(5, fEnv, NAVY, LW, 0.4, 4, {markLine: arrows(fArrows)}),
  labels(5, fLabels),
  // (g)
  comp(6, gGreen, gBase, vgrad([178,216,140])), comp(6, gRed, gBase, vgrad([225,95,100])), comp(6, gBlue, gBase, vgrad([60,160,225])),
  line(6, gRaw, '#8a8a8a', 1.5, false),
  line(6, gBase, RED, 6, 0.4),
  line(6, gEnv, NAVY, LW, 0.4, 4, {markLine: arrows(gArrows)}),
  labels(6, gLabels),
  // (h)
  comp(7, hBand, hBase, new G.LinearGradient(0,0,1,0,[{offset:0,color:'#e27b7a'},{offset:0.6,color:'#eeaaa8'},{offset:1,color:'#f5d2d0'}])),
  comp(7, hGreen, hBase, vgrad([120,188,55])), comp(7, hYellow, hBase, vgrad([222,216,90])), comp(7, hBlue, hBase, vgrad([72,165,225])), comp(7, hRed, hBase, vgrad([225,92,98])),
  line(7, hRaw, '#8a8a8a', 1.5, 0.3),
  line(7, hBase, RED, 4.5, 0.4),
  line(7, hEnv, NAVY, LW, 0.4, 4, {markLine: arrows(hArrows)}),
  labels(7, hLabels),
  // (i)
  line(8, iCNS, '#000', 14, false),
  line(8, iPMCN, PINK, 5.5, false),
  labels(8, iLabels, 34)
];

const chart = echarts.init(document.getElementById('c'), null, {renderer:'canvas', width:3199, height:2867});
chart.setOption({animation:false, backgroundColor:'#ffffff', grid, xAxis, yAxis, series, graphic});
</script></body></html>
